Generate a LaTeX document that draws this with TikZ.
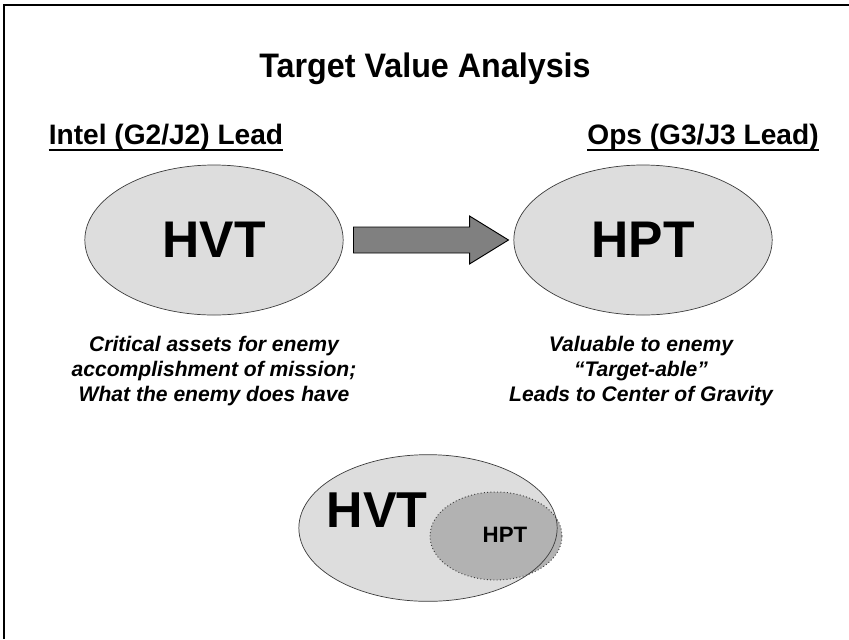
\documentclass[tikz,border=0pt]{standalone}
\usepackage{fontspec}
\setmainfont{Liberation Sans}
\newfontfamily\titlefont[FakeStretch=0.95]{Liberation Sans}
\usetikzlibrary{shapes.geometric, positioning, calc}
\definecolor{ovalgray}{RGB}{221,221,221}
\definecolor{innergray}{RGB}{178,178,178}
\definecolor{arrowgray}{RGB}{128,128,128}
\definecolor{edgegray}{RGB}{60,60,60}

\begin{document}
\begin{tikzpicture}[
  x = 0.03cm, y = -0.03cm,
  oval/.style    = {ellipse, draw=edgegray, fill=ovalgray, line width=0.6pt,
                    inner sep=0pt, minimum width=7.75cm, minimum height=4.5cm,
                    font=\fontsize{44}{50}\selectfont\bfseries},
  inneroval/.style = {ellipse, draw=edgegray, fill=innergray, dotted, line width=0.8pt,
                    inner sep=0pt, minimum width=3.96cm, minimum height=2.64cm},
  heading/.style = {inner sep=0pt, anchor=base, font=\fontsize{24}{28}\selectfont\bfseries},
  uline/.style   = {line width=1.8pt},
  caption/.style = {inner sep=0pt, align=center,
                    font=\fontsize{18}{21}\selectfont\bfseries\itshape},
  blockarr/.style = {draw=black, fill=arrowgray, line width=0.8pt, line join=miter},
]
\useasboundingbox (0,0) rectangle (849,639);

% ── Frame ─────────────────────────────────────────────────────────────────────
\draw[line width=2.4pt] (849,5) -- (4,5) -- (4,639);

% ── Title and column headings ─────────────────────────────────────────────────
\node[inner sep=0pt, anchor=base, font=\titlefont\fontsize{29}{34}\selectfont\bfseries]
  (title) at (425,77) {Target Value Analysis};

\node[heading] (intel) at (166,144) {Intel (G2/J2) Lead};
\node[heading] (ops)   at (703,144) {Ops (G3/J3 Lead)};
\draw[uline] (intel.south west) -- (intel.south east);
\draw[uline] (ops.south west)   -- (ops.south east);

% ── Top row: HVT -> HPT ───────────────────────────────────────────────────────
\node[oval] (hvt) at (214,240) {HVT};
\node[oval] (hpt) at (643,240) {HPT};

\draw[blockarr]
  ($(hvt.east)+(10,-13)$) -- ($(hvt.east)+(126,-13)$) --
  ($(hvt.east)+(126,-24)$) -- ($(hpt.west)+(-5,0)$) --
  ($(hvt.east)+(126,24)$) -- ($(hvt.east)+(126,13)$) --
  ($(hvt.east)+(10,13)$) -- cycle;

% ── Captions ──────────────────────────────────────────────────────────────────
\node[caption] (hvtnote) at (214,371)
  {Critical assets for enemy\\accomplishment of mission;\\What the enemy does have};
\node[caption] (hptnote) at (641,371)
  {Valuable to enemy\\“Target-able”\\Leads to Center of Gravity};

% ── Bottom: HPT inside HVT ────────────────────────────────────────────────────
\node[oval, draw=none, minimum height=4.4cm] (bigfill) at (428,528) {};
\node[inneroval] (hptsmall) at (496,536) {};
\node[oval, fill=none, minimum height=4.4cm] (hvtbig) at (bigfill.center) {};
\node[inner sep=0pt, font=\fontsize{43}{50}\selectfont\bfseries] (hvtlbl) at (377,510) {HVT};
\node[inner sep=0pt, font=\fontsize{19}{22}\selectfont\bfseries] (hptlbl) at (505,535) {HPT};

\end{tikzpicture}
\end{document}
